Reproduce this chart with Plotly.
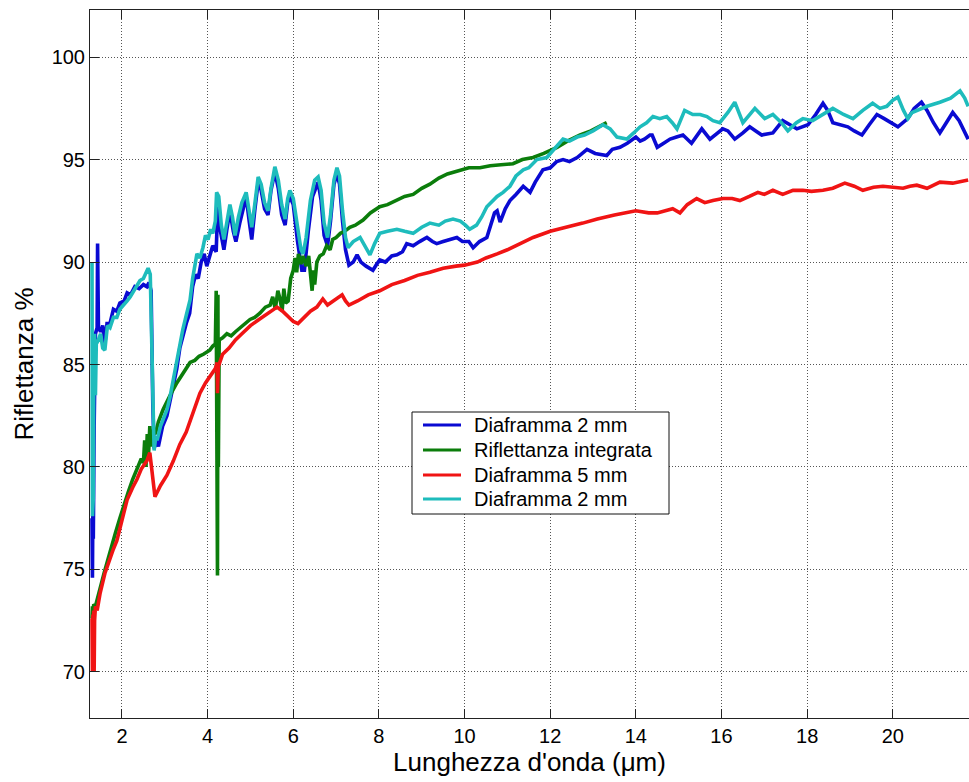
import plotly.graph_objects as go

# ---------------- data ----------------
series_names = ["Diaframma 2 mm", "Riflettanza integrata", "Diaframma 5 mm", "Diaframma 2 mm"]
series_colors = ["#0a0ad2", "#0b7d0b", "#f01414", "#1ebcbc"]

blue_x = [1.30, 1.31, 1.32, 1.33, 1.35, 1.38, 1.42, 1.43, 1.45, 1.50, 1.55, 1.60, 1.65, 1.72, 1.80, 1.88,
          1.95, 2.05, 2.12, 2.20, 2.30, 2.40, 2.50, 2.58, 2.63, 2.68, 2.72, 2.75, 2.80, 2.85, 2.95, 3.05,
          3.12, 3.20, 3.28, 3.35, 3.42, 3.50, 3.58, 3.65, 3.72, 3.78, 3.85, 3.92, 3.98, 4.05, 4.12, 4.20,
          4.24, 4.30, 4.38, 4.45, 4.52, 4.60, 4.66, 4.75, 4.83, 4.90, 4.97, 5.03, 5.10, 5.18, 5.25, 5.33,
          5.41, 5.48, 5.57, 5.65, 5.73, 5.81, 5.87, 5.92, 6.00, 6.10, 6.20, 6.26, 6.35, 6.45, 6.58, 6.65,
          6.72, 6.80, 6.87, 6.95, 7.02, 7.08, 7.15, 7.22, 7.30, 7.40, 7.49, 7.58, 7.70, 7.86, 7.95, 8.02,
          8.15, 8.30, 8.42, 8.55, 8.65, 8.80, 8.95, 9.12, 9.25, 9.35, 9.50, 9.65, 9.82, 9.95, 10.10, 10.20,
          10.35, 10.52, 10.62, 10.70, 10.76, 10.83, 10.95, 11.06, 11.20, 11.37, 11.53, 11.65, 11.83, 12.00,
          12.15, 12.30, 12.45, 12.63, 12.86, 13.05, 13.32, 13.45, 13.63, 13.80, 14.00, 14.10, 14.20, 14.33,
          14.38, 14.50, 14.65, 14.80, 14.95, 15.10, 15.30, 15.54, 15.73, 15.90, 16.03, 16.15, 16.31, 16.50,
          16.66, 16.80, 16.94, 17.20, 17.43, 17.60, 17.76, 18.02, 18.20, 18.37, 18.48, 18.60, 18.78, 18.95,
          19.10, 19.28, 19.45, 19.63, 19.80, 19.95, 20.12, 20.35, 20.50, 20.67, 20.80, 20.95, 21.10, 21.25,
          21.40, 21.55, 21.76]
blue_y = [77.5, 74.6, 78.0, 76.5, 82.0, 86.5, 86.8, 90.9, 86.8, 86.6, 86.9, 86.0, 87.0, 87.0, 87.7, 87.6,
          88.0, 88.1, 88.5, 88.4, 88.8, 88.7, 88.9, 88.8, 89.0, 88.6, 83.0, 80.9, 81.3, 81.0, 82.0, 82.5,
          83.2, 84.0, 84.8, 85.8, 86.4, 87.0, 87.5, 88.8, 89.4, 89.2, 90.0, 90.4, 89.8, 90.3, 90.8, 90.5,
          93.0, 91.5, 90.6, 91.6, 92.5, 91.5, 91.0, 91.9, 92.6, 93.2, 92.0, 91.1, 92.5, 93.9, 93.5, 92.6,
          92.3, 93.5, 94.4, 93.6, 92.3, 91.8, 92.9, 93.2, 92.8, 91.0, 89.6, 89.6, 91.5, 93.2, 93.9, 93.0,
          91.3, 90.8, 92.0, 93.8, 94.3, 93.8, 92.0, 90.6, 89.85, 90.0, 90.35, 90.0, 89.8, 89.6, 89.9, 90.1,
          90.0, 90.3, 90.35, 90.5, 90.9, 90.8, 91.0, 91.2, 91.0, 90.9, 91.0, 91.1, 91.2, 91.0, 91.0, 90.7,
          91.0, 91.2, 91.8, 92.4, 92.5, 91.95, 92.6, 93.0, 93.3, 93.7, 93.4, 93.9, 94.5, 94.6,
          94.9, 95.0, 94.9, 95.1, 95.5, 95.3, 95.2, 95.5, 95.6, 95.8, 96.1, 95.9, 96.0, 96.2,
          96.2, 95.6, 95.8, 96.0, 96.1, 96.2, 95.8, 96.5, 96.0, 96.3, 96.5, 96.4, 96.0, 96.3,
          96.6, 96.4, 96.2, 96.3, 96.9, 96.7, 96.5, 96.7, 97.2, 97.75, 97.4, 96.8, 96.7, 96.6,
          96.4, 96.2, 96.7, 97.2, 97.0, 96.8, 96.6, 97.0, 97.5, 97.8, 97.4, 96.8, 96.3, 96.8,
          97.3, 96.9, 96.0]

green_x = [1.30, 1.31, 1.32, 1.34, 1.38, 1.45, 1.50, 1.58, 1.66, 1.75, 1.85, 1.95, 2.05, 2.15, 2.25, 2.35,
           2.45, 2.50, 2.53, 2.56, 2.59, 2.62, 2.65, 2.68, 2.72, 2.78, 2.85, 2.96, 3.05, 3.15, 3.28, 3.40,
           3.50, 3.59, 3.70, 3.80, 3.90, 3.98, 4.05, 4.12, 4.18, 4.20, 4.21, 4.22, 4.23, 4.24, 4.25, 4.27,
           4.35, 4.45,
           4.55, 4.65, 4.76, 4.88, 4.99, 5.10, 5.22, 5.35, 5.46, 5.52, 5.58, 5.64, 5.69, 5.74, 5.78, 5.82,
           5.88, 5.94, 6.00, 6.04, 6.08, 6.12, 6.18, 6.23, 6.30, 6.36, 6.40, 6.44, 6.47, 6.50, 6.55, 6.62,
           6.70, 6.78, 6.86, 6.92, 7.00, 7.10, 7.20, 7.32, 7.45, 7.63, 7.80, 8.02, 8.20, 8.40, 8.60, 8.80,
           9.00, 9.19, 9.40, 9.60, 9.89, 10.10, 10.36, 10.60, 10.85, 11.13, 11.35, 11.60, 11.85, 12.16,
           12.40, 12.70, 12.95, 13.15, 13.32]
green_y = [72.6, 73.2, 72.5, 73.3, 73.2, 73.8, 74.2, 74.8, 75.4, 76.0, 76.8, 77.5, 78.2, 78.8, 79.4, 79.9,
           80.4, 80.2, 81.3, 80.0, 81.6, 80.6, 82.0, 81.0, 81.8, 81.6, 82.2, 82.8, 83.2, 83.6, 84.1, 84.5,
           84.8, 85.1, 85.2, 85.4, 85.5, 85.6, 85.7, 85.9, 86.0, 88.6, 76.5, 88.5, 74.7, 88.4, 80.0, 86.2,
           86.3, 86.5,
           86.4, 86.6, 86.8, 87.0, 87.2, 87.3, 87.5, 87.8, 87.9, 88.3, 87.7, 88.6, 88.2, 87.6, 88.7, 88.0,
           88.1, 89.2, 89.6, 90.2, 89.5, 90.4, 89.9, 90.3, 89.8, 90.3, 89.3, 88.6, 89.6, 88.9, 90.0, 90.3,
           90.4, 90.8, 90.6, 91.1, 91.2, 91.4, 91.5, 91.7, 91.8, 92.05, 92.4, 92.7, 92.8, 93.0, 93.2, 93.3,
           93.6, 93.8, 94.1, 94.3, 94.5, 94.6, 94.6, 94.7, 94.75, 94.8, 95.0, 95.1, 95.3, 95.6,
           95.9, 96.2, 96.4, 96.6, 96.8]

red_x = [1.30, 1.31, 1.32, 1.33, 1.34, 1.35, 1.36, 1.38, 1.42, 1.49, 1.60, 1.72, 1.80, 1.88, 2.00, 2.12,
         2.25, 2.35, 2.45, 2.58, 2.65, 2.70, 2.77, 2.90, 3.05, 3.20, 3.35, 3.50, 3.63, 3.72, 3.82, 3.95,
         4.05, 4.12, 4.18, 4.22, 4.23, 4.25, 4.35, 4.50, 4.65, 4.80, 5.00, 5.20, 5.40, 5.55, 5.62, 5.75,
         5.90, 6.00, 6.11, 6.25, 6.40, 6.55, 6.69, 6.80, 6.90, 7.05, 7.14, 7.22, 7.30, 7.50, 7.75, 8.02,
         8.30, 8.60, 8.90, 9.19, 9.50, 9.80, 10.00, 10.30, 10.50, 10.76, 11.00, 11.30, 11.60, 12.00, 12.40,
         12.76, 13.10, 13.50, 14.00, 14.30, 14.50, 14.70, 14.86, 15.03, 15.20, 15.42, 15.61, 15.80, 16.03,
         16.25, 16.43, 16.65, 16.85, 17.00, 17.20, 17.43, 17.67, 17.90, 18.10, 18.37, 18.60, 18.88, 19.10,
         19.30, 19.55, 19.77, 20.00, 20.24, 20.40, 20.56, 20.80, 21.00, 21.10, 21.40, 21.60, 21.76]
red_y = [72.6, 70.0, 72.8, 70.3, 73.0, 70.0, 72.5, 73.2, 73.0, 73.85, 74.8, 75.6, 76.0, 76.4, 77.4, 78.4,
         79.0, 79.4, 79.9, 80.3, 80.7, 79.8, 78.55, 79.1, 79.6, 80.3, 81.1, 81.7, 82.45, 83.0, 83.6, 84.1,
         84.4, 84.6, 84.8, 85.1, 83.6, 84.9, 85.5, 85.8, 86.2, 86.5, 86.9, 87.2, 87.5, 87.7, 87.8, 87.6,
         87.3, 87.1, 87.0, 87.3, 87.6, 87.8, 88.2, 87.9, 88.05, 88.3, 88.4, 88.1, 87.9, 88.1, 88.4, 88.6,
         88.9, 89.1, 89.35, 89.5, 89.7, 89.8, 89.85, 90.0, 90.2, 90.4, 90.6, 90.9, 91.2, 91.5, 91.7,
         91.9, 92.1, 92.3, 92.5, 92.4, 92.4, 92.5, 92.6, 92.4, 92.8, 93.1, 92.9, 93.0, 93.1,
         93.1, 93.0, 93.2, 93.4, 93.3, 93.5, 93.3, 93.5, 93.5, 93.45, 93.5, 93.6, 93.85, 93.7,
         93.5, 93.65, 93.7, 93.65, 93.6, 93.7, 93.75, 93.6, 93.8, 93.9, 93.85, 93.95, 94.0]

cyan_x = [1.300, 1.305, 1.31, 1.32, 1.33, 1.34, 1.36, 1.38, 1.40, 1.45, 1.50, 1.55, 1.60, 1.66, 1.72, 1.80,
          1.88, 1.95, 2.05, 2.12, 2.19, 2.28, 2.35, 2.42, 2.50, 2.56, 2.61, 2.66, 2.70, 2.73, 2.75, 2.79,
          2.82, 2.90, 2.97, 3.05, 3.12, 3.20, 3.28, 3.35, 3.42, 3.50, 3.59, 3.65, 3.70, 3.75, 3.82, 3.89,
          3.95, 4.01, 4.07, 4.12, 4.18, 4.21, 4.26, 4.32, 4.38, 4.45, 4.52, 4.58, 4.64, 4.72, 4.80, 4.90,
          4.96, 5.03, 5.10, 5.18, 5.25, 5.33, 5.41, 5.48, 5.57, 5.65, 5.73, 5.81, 5.87, 5.92, 6.00, 6.10,
          6.18, 6.23, 6.30, 6.40, 6.50, 6.58, 6.65, 6.72, 6.80, 6.87, 6.95, 7.02, 7.08, 7.15, 7.22, 7.28,
          7.40, 7.56, 7.68, 7.79, 7.90, 8.02, 8.20, 8.42, 8.60, 8.80, 9.00, 9.19, 9.40, 9.55, 9.73, 9.90,
          10.02, 10.12, 10.28, 10.40, 10.52, 10.65, 10.76, 10.90, 11.06, 11.20, 11.37, 11.50, 11.69, 11.92,
          12.10, 12.30, 12.45, 12.63, 12.80, 13.00, 13.23, 13.40, 13.56, 13.79, 13.95, 14.10, 14.25, 14.40,
          14.56, 14.72, 14.85, 14.96, 15.14, 15.33, 15.50, 15.66, 15.80, 15.96, 16.15, 16.31, 16.50, 16.65,
          16.78, 17.01, 17.20, 17.40, 17.55, 17.75, 17.90, 18.13, 18.35, 18.60, 18.85, 19.07, 19.30, 19.53,
          19.70, 19.86, 20.00, 20.12, 20.25, 20.35, 20.45, 20.56, 20.80, 21.10, 21.35, 21.57, 21.68, 21.76]
cyan_y = [90.0, 84.0, 77.6, 80.0, 78.5, 84.5, 86.5, 83.5, 86.0, 86.2, 86.5, 85.8, 85.7, 86.9, 86.8, 87.3,
          87.3, 87.7, 87.9, 88.1, 88.3, 88.6, 88.8, 89.1, 89.2, 89.5, 89.7, 89.4, 86.0, 82.0, 80.8, 81.5,
          81.3, 82.0, 82.4, 82.8, 83.4, 84.3, 85.1, 86.0, 86.7, 87.4, 88.15, 89.2, 89.9, 90.4, 90.2, 90.7,
          91.3, 91.1, 91.6, 91.4, 92.0, 93.4, 93.2, 91.8, 91.1, 91.9, 92.8, 92.2, 91.3, 92.2, 92.9, 93.4,
          92.6, 91.7, 92.8, 94.15, 93.8, 92.9, 92.5, 93.6, 94.65, 94.0, 92.8, 92.1, 93.1, 93.5, 93.1, 91.6,
          90.6, 90.4, 91.2, 93.0, 94.0, 94.15, 93.5, 91.9, 91.2, 92.3, 94.0, 94.6, 94.2, 92.5, 91.2, 90.7,
          91.0, 91.2, 90.8, 90.35, 90.9, 91.4, 91.5, 91.6, 91.5, 91.4, 91.7, 91.9, 91.8, 92.0, 92.1, 92.0,
          91.8, 91.6, 91.8, 92.2, 92.7, 93.0, 93.2, 93.4, 93.7, 94.2, 94.5, 94.6, 95.0, 95.1,
          95.5, 96.0, 95.9, 96.1, 96.2, 96.4, 96.7, 96.5, 96.1, 96.0, 96.3, 96.6, 96.8, 97.1,
          97.0, 97.1, 96.8, 96.5, 97.4, 97.2, 97.2, 97.1, 96.9, 96.8, 97.3, 97.8, 96.8, 97.2,
          97.5, 97.0, 97.2, 96.8, 96.4, 96.8, 97.0, 96.9, 97.2, 97.5, 97.2, 97.0, 97.4, 97.75,
          97.5, 97.6, 97.9, 98.05, 97.4, 97.0, 97.3, 97.4, 97.6, 97.8, 98.0, 98.35, 98.0, 97.6]

x_ticks = [2, 4, 6, 8, 10, 12, 14, 16, 18, 20]
y_ticks = [70, 75, 80, 85, 90, 95, 100]
x_range = [1.253, 21.78]
y_range = [67.75, 102.3]

# ---------------- figure ----------------
FONT = "Arial, 'Liberation Sans', sans-serif"
W, H = 969, 782
ML, MR, MT, MB = 90, 0, 10, 64
LW = 3.6

fig = go.Figure()
xs = [blue_x, green_x, red_x, cyan_x]
ys = [blue_y, green_y, red_y, cyan_y]
for name, color, x, y in zip(series_names, series_colors, xs, ys):
    fig.add_trace(go.Scatter(x=x, y=y, mode="lines", name=name,
                             line=dict(color=color, width=LW), showlegend=False))

# legend drawn as a boxed key (paper coordinates)
pw, ph = W - ML - MR, H - MT - MB
def px2paper(px, py):
    return (px - ML) / pw, (H - MB - py) / ph

bx0, by0 = px2paper(412, 412)
bx1, by1 = px2paper(669, 514)
fig.add_shape(type="rect", xref="paper", yref="paper", x0=bx0, y0=by1, x1=bx1, y1=by0,
              line=dict(color="#111", width=1), fillcolor="white", layer="above")
row_py = [425, 450, 475, 499]
for name, color, py in zip(series_names, series_colors, row_py):
    lx0, ly = px2paper(423, py)
    lx1, _ = px2paper(461, py)
    fig.add_shape(type="line", xref="paper", yref="paper", x0=lx0, x1=lx1, y0=ly, y1=ly,
                  line=dict(color=color, width=3.2), layer="above")
    tx, _ = px2paper(472, py)
    fig.add_annotation(xref="paper", yref="paper", x=tx, y=ly, text=name, showarrow=False,
                       xanchor="left", yanchor="middle", font=dict(family=FONT, size=20, color="black"))

axis_common = dict(
    showline=True, linecolor="#222", linewidth=1,
    ticks="inside", ticklen=9, tickcolor="#222", tickwidth=1,
    showgrid=True, gridcolor="#555", gridwidth=1, griddash="1px,2px",
    zeroline=False, tickfont=dict(family=FONT, size=20, color="black"),
)

fig.update_layout(
    width=W, height=H,
    margin=dict(l=ML, r=MR, t=MT, b=MB, autoexpand=False),
    paper_bgcolor="white", plot_bgcolor="white",
    font=dict(family=FONT, color="black"),
    xaxis=dict(range=x_range, tickvals=x_ticks, mirror="ticks", automargin=False,
               title=dict(text="Lunghezza d'onda (μm)", font=dict(family=FONT, size=26), standoff=6),
               **axis_common),
    yaxis=dict(range=y_range, tickvals=y_ticks, mirror=False, automargin=False,
               title=dict(text="Riflettanza %", font=dict(family=FONT, size=26), standoff=10),
               **axis_common),
)

fig.write_html("out.html")
